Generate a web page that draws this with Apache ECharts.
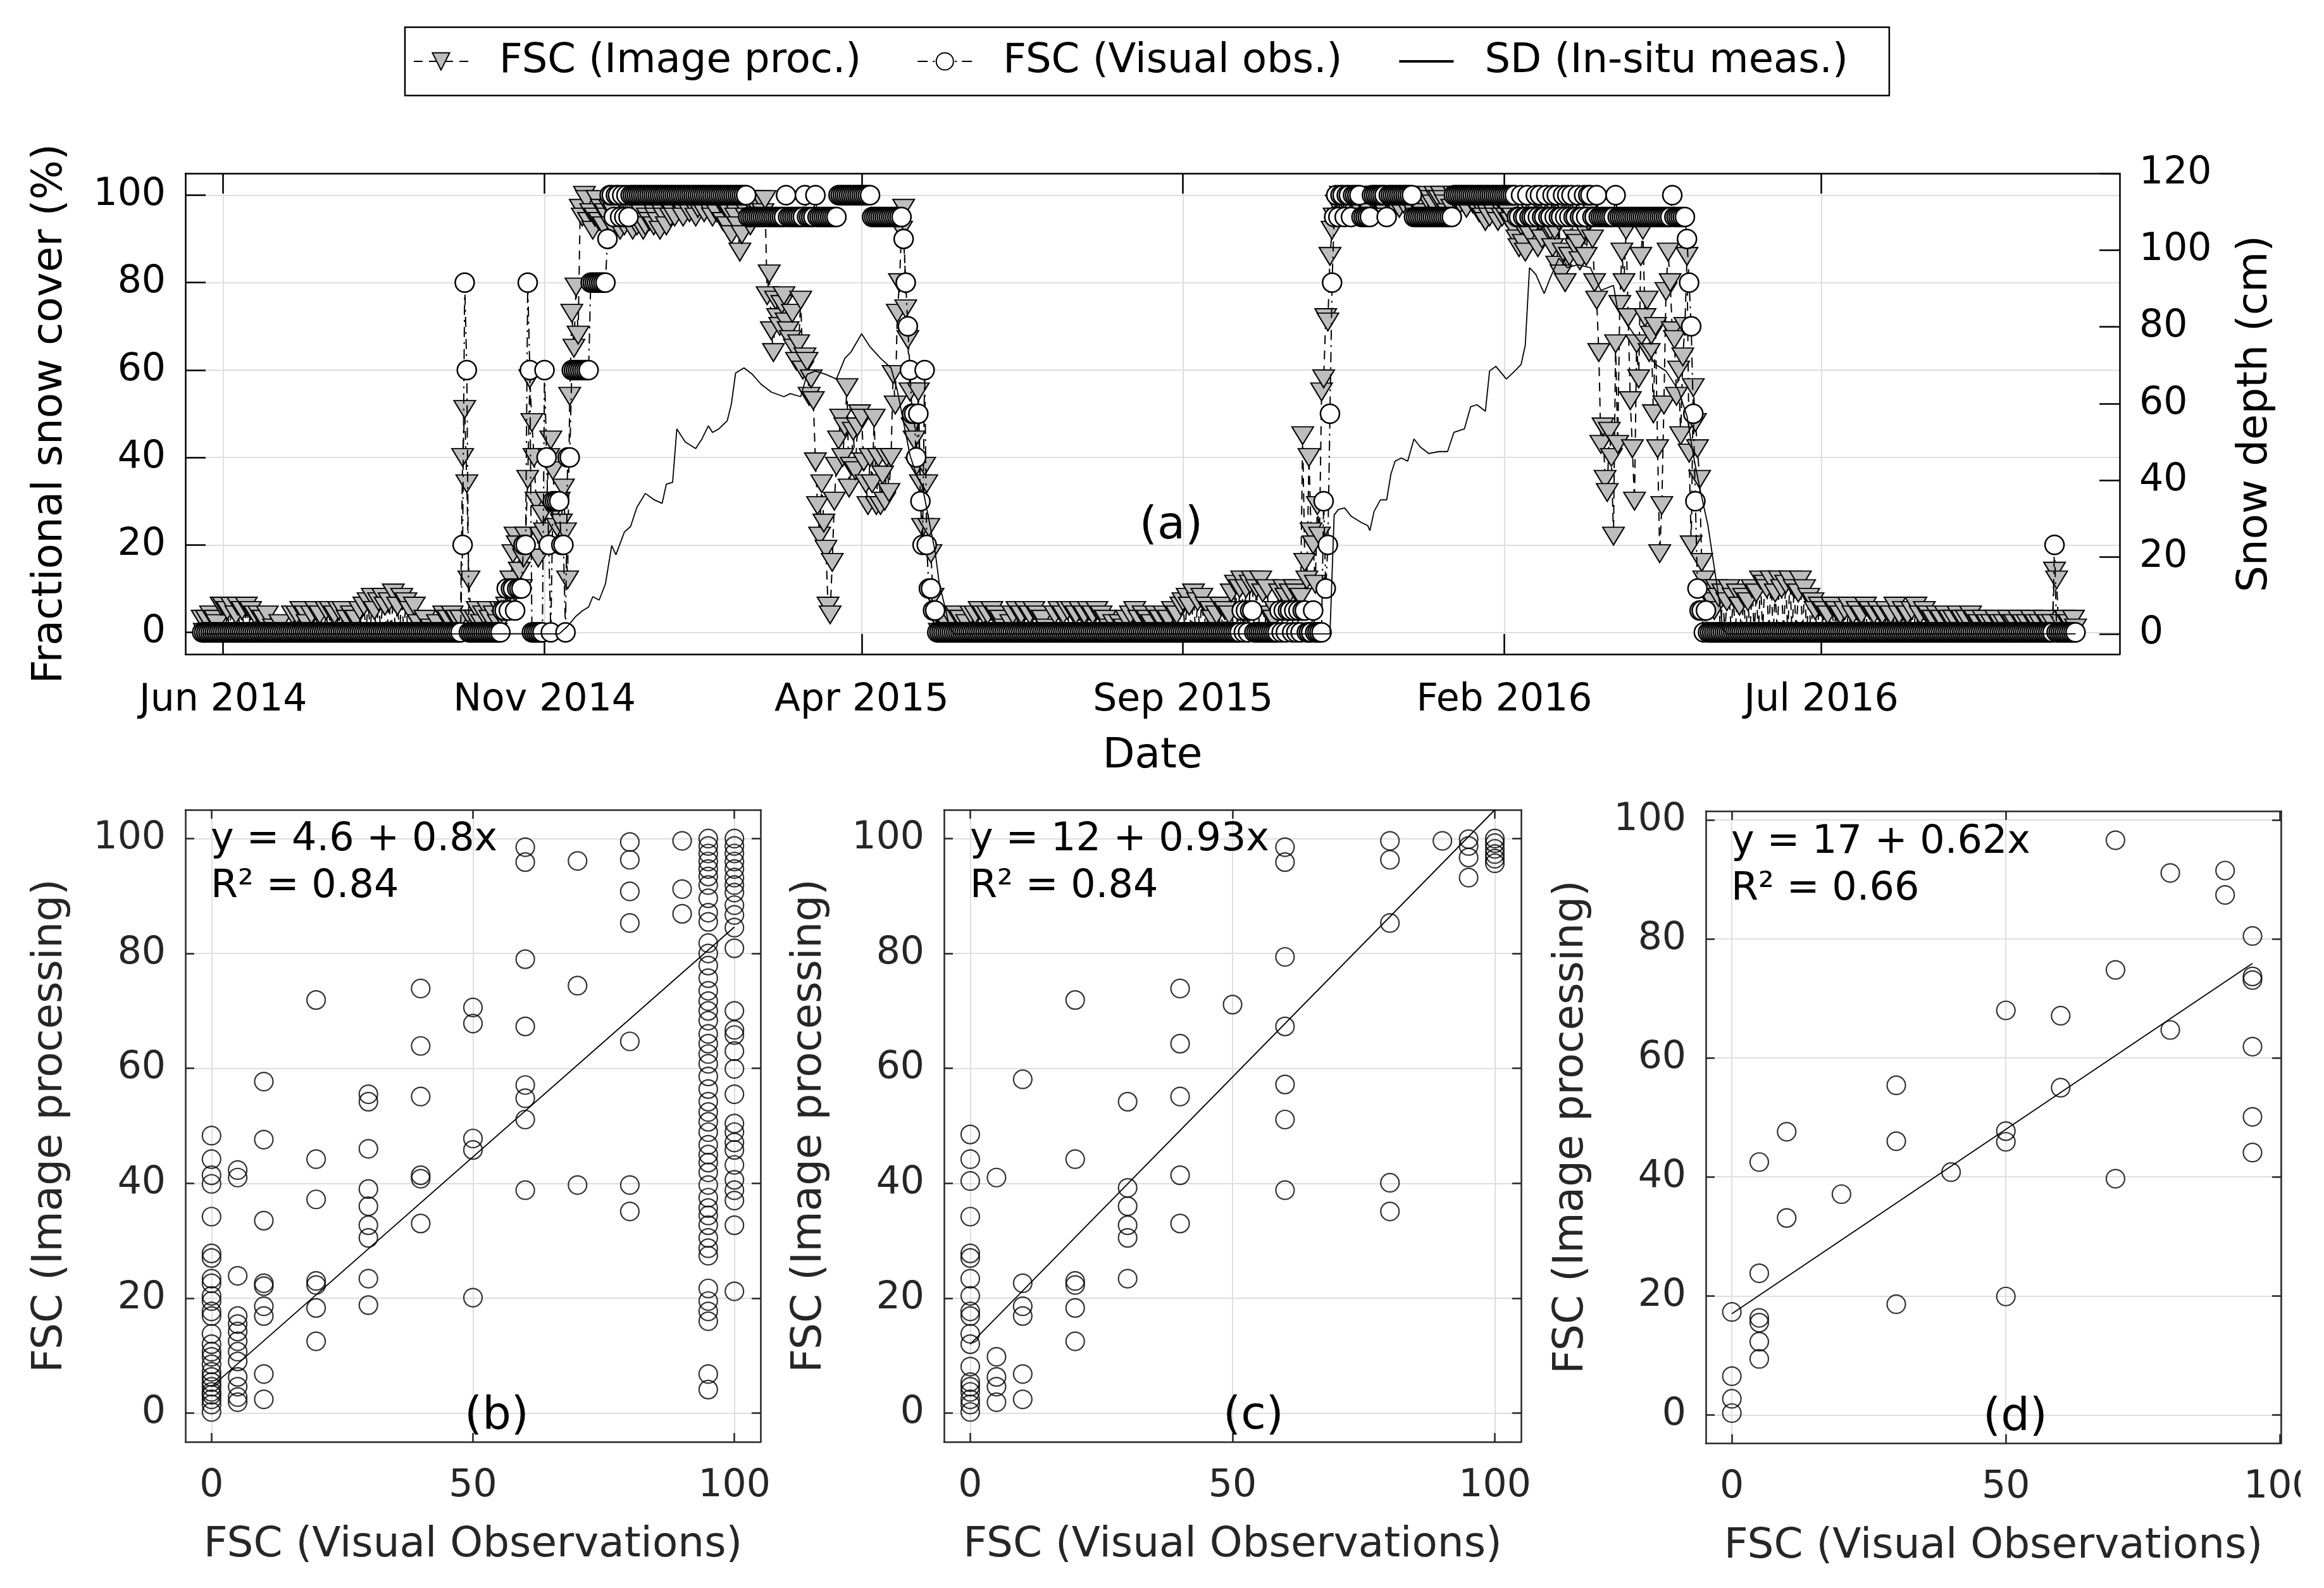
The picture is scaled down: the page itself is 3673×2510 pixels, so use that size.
<!DOCTYPE html>
<html>
<head>
<meta charset="utf-8">
<title>Snow cover</title>
<script src="https://cdn.jsdelivr.net/npm/echarts@6/dist/echarts.min.js"></script>
<style>
  html, body { margin: 0; padding: 0; background: #fff; }
  #chart { width: 3673px; height: 2510px; }
</style>
</head>
<body>
<div id="chart"></div>
<script>
const FONT = 'DejaVu Sans';
const monthNames = ['Jan', 'Feb', 'Mar', 'Apr', 'May', 'Jun', 'Jul', 'Aug', 'Sep', 'Oct', 'Nov', 'Dec'];

// ---- panel (a): daily FSC and snow depth ----
const firstDay = '2014-05-22';
const axisStart = '2014-05-14';
const axisEnd = '2016-11-20';
const dateTicks = ['2014-06-01', '2014-11-01', '2015-04-01', '2015-09-01', '2016-02-01', '2016-07-01'];
const fscTicks = [0, 20, 40, 60, 80, 100];
const sdTicks = [0, 20, 40, 60, 80, 100, 120];

// FSC from image processing (%), one value per day from firstDay
const fscImage = [
  3,0,3,0,4,0,3,2,0,6,                                                        // 2014-05
  6,0,5,0,6,0,4,6,0,5, 0,6,0,5,0,4,0,4,0,3, 0,4,0,0,1,0,0,2,0,0,               // 2014-06
  0,0,0,4,0,4,0,5,0,4, 2,0,4,0,5,0,4,0,0,5, 0,5,0,4,0,5,0,5,0,3, 0,            // 2014-07
  4,0,3,0,5,0,6,0,7,0, 8,5,0,7,0,8,6,0,7,0, 9,0,6,0,8,0,7,0,5,0, 6,            // 2014-08
  0,2,0,0,3,0,0,1,0,0, 2,0,0,4,0,3,0,4,0,3, 0,3,40,51,34,12,3,0,3,5,          // 2014-09
  0,2,4,0,5,3,0,4,0,2, 5,3,5,6,9,12,18,22,20,14, 10,17,22,35,58,48,40,30,17,22, 27,   // 2014-10
  23,30,40,44,37,28,24,30,25,33, 23,12,54,73,65,79,68,97,95,100, 99,94,96,92,95,99,94,97,93,96,   // 2014-11
  95,97,93,96,94,100,92,95,93,97, 96,94,92,95,93,94,96,92,93,95, 94,97,93,95,94,92,96,95,93,97, 95,   // 2014-12
  96,95,98,100,97,95,99,100,96,98, 100,95,97,99,100,96,98,97,100,95, 99,96,100,98,94,97,93,96,91,97, 95,   // 2015-01
  93,87,91,97,95,99,93,95,99,97, 95,99,96,99,77,82,69,64,76,72, 70,75,77,71,69,67,73,65,   // 2015-02
  62,66,76,60,63,62,54,58,53,39, 29,22,34,25,19,6,4,16,30,38, 44,49,40,47,56,33,38,46,37,47, 50,   // 2015-03
  49,39,34,29,40,34,49,29,40,29, 36,30,40,32,40,59,52,73,80,92, 97,74,67,55,47,44,38,55,34,24,   // 2015-04
  38,34,24,18,8,4,3,0,3,0, 2,0,0,3,0,4,0,3,0,0, 2,0,4,0,4,0,5,0,4,0, 4,      // 2015-05
  0,5,0,4,0,3,0,1,0,0, 2,4,0,5,0,4,0,5,0,4, 0,5,0,4,0,3,0,1,0,0,             // 2015-06
  0,4,0,5,0,4,0,5,0,5, 0,4,0,5,0,4,0,5,0,4, 0,5,0,4,0,3,0,1,0,2, 0,          // 2015-07
  0,2,0,1,3,0,4,0,5,0, 3,0,4,0,3,0,2,0,4,0, 3,0,4,0,3,0,5,0,4,0, 6,          // 2015-08
  7,0,8,6,0,9,0,7,0,8, 0,6,0,5,3,0,4,0,6,0, 5,0,4,9,0,11,0,10,12,0,          // 2015-09
  10,0,11,12,0,10,0,12,9,0, 10,4,0,3,5,0,9,0,10,8, 0,9,0,10,9,0,8,45,16,12, 40,   // 2015-10
  23,20,11,29,22,55,58,72,71,86, 92,95,98,95,100,97,95,99,100,96, 99,100,98,100,96,95,97,95,96,99,   // 2015-11
  99,100,98,100,97,100,95,99,100,98, 100,99,97,100,98,100,99,100,98,96, 95,97,95,96,95,99,100,99,98,100, 99,   // 2015-12
  99,100,99,98,96,95,97,100,99,100, 98,100,99,97,100,100,98,99,100,96, 97,95,94,96,95,97,96,95,94,97, 95,   // 2016-01
  97,95,96,94,95,92,90,88,93,89, 87,95,91,96,93,95,88,94,90,96, 95,92,92,88,92,84,94,82,87,   // 2016-02
  80,96,86,95,90,88,89,85,95,92, 86,94,97,90,80,76,64,43,47,35, 32,46,40,22,66,43,75,87,80,92, 72,   // 2016-03
  53,42,30,66,58,86,92,72,76,64, 68,50,70,42,18,29,52,78,87,80, 69,67,54,60,45,63,70,86,41,20,   // 2016-04
  56,48,42,35,16,12,10,8,9,7, 5,10,8,0,9,0,7,10,0,8, 0,9,6,0,8,0,7,0,10,0, 9,   // 2016-05
  0,12,0,11,10,0,12,0,9,0, 12,10,0,11,0,12,0,10,0,9, 12,0,10,0,8,0,7,5,0,6,  // 2016-06
  0,5,0,4,0,6,0,5,0,4, 0,5,0,6,0,4,0,5,0,4, 0,6,0,5,0,4,0,5,0,4, 0,          // 2016-07
  5,0,4,0,6,0,4,0,5,0, 4,0,5,0,6,0,4,0,5,0, 4,0,3,0,4,0,3,0,4,0, 3,          // 2016-08
  0,3,0,4,0,3,0,3,0,4, 0,3,0,2,0,3,0,2,0,2, 0,3,0,2,0,2,0,3,0,2,             // 2016-09
  2,0,3,0,2,0,2,0,3,0, 2,0,2,0,3,0,2,0,2,14, 12,0,2,0,3,0,2,0,3,1            // 2016-10
];

// FSC from visual observations (%), one value per day from firstDay
const fscVisual = [
  0,0,0,0,0,0,0,0,0,0,                                                        // 2014-05
  0,0,0,0,0,0,0,0,0,0, 0,0,0,0,0,0,0,0,0,0, 0,0,0,0,0,0,0,0,0,0,               // 2014-06
  0,0,0,0,0,0,0,0,0,0, 0,0,0,0,0,0,0,0,0,0, 0,0,0,0,0,0,0,0,0,0, 0,            // 2014-07
  0,0,0,0,0,0,0,0,0,0, 0,0,0,0,0,0,0,0,0,0, 0,0,0,0,0,0,0,0,0,0, 0,            // 2014-08
  0,0,0,0,0,0,0,0,0,0, 0,0,0,0,0,0,0,0,0,0, 0,0,20,80,60,0,0,0,0,0,           // 2014-09
  0,0,0,0,0,0,0,0,0,0, 0,5,5,10,5,10,10,5,10,10, 10,20,20,80,60,0,0,0,0,0, 0,   // 2014-10
  60,40,20,0,30,30,30,30,20,20, 0,40,40,60,60,60,60,60,60,60, 60,60,80,80,80,80,80,80,80,80,   // 2014-11
  90,100,100,95,100,100,95,100,95,100, 95,100,100,100,100,100,100,100,100,100, 100,100,100,100,100,100,100,100,100,100, 100,   // 2014-12
  100,100,100,100,100,100,100,100,100,100, 100,100,100,100,100,100,100,100,100,100, 100,100,100,100,100,100,100,100,100,100, 100,   // 2015-01
  100,100,100,100,100,95,95,95,95,95, 95,95,95,95,95,95,95,95,95,95, 95,95,95,100,95,95,95,95,   // 2015-02
  95,95,95,95,100,95,95,95,95,100, 95,95,95,95,95,95,95,95,95,95, 100,100,100,100,100,100,100,100,100,100, 100,   // 2015-03
  100,100,100,100,100,95,95,95,95,95, 95,95,95,95,95,95,95,95,95,95, 90,80,70,60,50,50,40,50,30,20,   // 2015-04
  60,20,10,10,5,5,0,0,0,0, 0,0,0,0,0,0,0,0,0,0, 0,0,0,0,0,0,0,0,0,0, 0,       // 2015-05
  0,0,0,0,0,0,0,0,0,0, 0,0,0,0,0,0,0,0,0,0, 0,0,0,0,0,0,0,0,0,0,               // 2015-06
  0,0,0,0,0,0,0,0,0,0, 0,0,0,0,0,0,0,0,0,0, 0,0,0,0,0,0,0,0,0,0, 0,            // 2015-07
  0,0,0,0,0,0,0,0,0,0, 0,0,0,0,0,0,0,0,0,0, 0,0,0,0,0,0,0,0,0,0, 0,            // 2015-08
  0,0,0,0,0,0,0,0,0,0, 0,0,0,0,0,0,0,0,0,0, 0,0,0,0,0,0,0,0,5,0,               // 2015-09
  5,0,5,5,0,0,0,0,0,0, 0,0,0,0,0,0,5,0,5,0, 5,5,0,5,0,5,0,5,5,0, 0,            // 2015-10
  0,5,0,0,0,0,30,10,20,50, 80,95,100,95,100,100,95,100,100,95, 100,100,100,100,95,95,95,95,95,100,   // 2015-11
  100,100,100,100,100,100,95,100,100,100, 100,100,100,100,100,100,100,100,100,95, 95,95,95,95,95,95,95,95,95,95, 95,   // 2015-12
  95,95,95,95,95,95,95,100,100,100, 100,100,100,100,100,100,100,100,100,100, 100,100,100,100,100,100,100,100,100,100, 100,   // 2016-01
  100,100,100,100,100,100,95,95,100,95, 95,100,95,95,95,100,95,100,95,95, 100,95,95,100,95,100,95,95,100,   // 2016-02
  95,100,95,100,95,95,100,95,95,100, 95,100,100,95,95,100,95,95,95,95, 95,95,95,95,100,95,95,95,95,95, 95,   // 2016-03
  95,95,95,95,95,95,95,95,95,95, 95,95,95,95,95,95,95,95,95,95, 100,95,95,95,95,95,95,90,80,70,   // 2016-04
  50,30,10,5,5,0,5,0,0,0, 0,0,0,0,0,0,0,0,0,0, 0,0,0,0,0,0,0,0,0,0, 0,       // 2016-05
  0,0,0,0,0,0,0,0,0,0, 0,0,0,0,0,0,0,0,0,0, 0,0,0,0,0,0,0,0,0,0,               // 2016-06
  0,0,0,0,0,0,0,0,0,0, 0,0,0,0,0,0,0,0,0,0, 0,0,0,0,0,0,0,0,0,0, 0,            // 2016-07
  0,0,0,0,0,0,0,0,0,0, 0,0,0,0,0,0,0,0,0,0, 0,0,0,0,0,0,0,0,0,0, 0,            // 2016-08
  0,0,0,0,0,0,0,0,0,0, 0,0,0,0,0,0,0,0,0,0, 0,0,0,0,0,0,0,0,0,0,               // 2016-09
  0,0,0,0,0,0,0,0,0,0, 0,0,0,0,0,0,0,0,0,20, 0,0,0,0,0,0,0,0,0,0              // 2016-10
];

// in-situ snow depth (cm)
const sdDates = [
  '2014-05-22', '2014-11-08', '2014-11-12', '2014-11-16', '2014-11-19', '2014-11-22', '2014-11-24', '2014-11-27',
  '2014-11-30', '2014-12-03', '2014-12-05', '2014-12-09', '2014-12-12', '2014-12-15', '2014-12-19', '2014-12-23',
  '2014-12-27', '2014-12-29', '2015-01-01', '2015-01-03', '2015-01-07', '2015-01-12', '2015-01-15', '2015-01-18',
  '2015-01-20', '2015-01-23', '2015-01-27', '2015-01-29', '2015-01-31', '2015-02-04', '2015-02-08', '2015-02-12',
  '2015-02-17', '2015-02-23', '2015-02-26', '2015-03-03', '2015-03-06', '2015-03-10', '2015-03-15', '2015-03-20',
  '2015-03-24', '2015-03-27', '2015-04-01', '2015-04-05', '2015-04-10', '2015-04-15', '2015-04-18', '2015-04-21',
  '2015-04-24', '2015-04-27', '2015-04-30', '2015-05-03', '2015-05-06', '2015-05-08', '2015-05-11', '2015-05-13',
  '2015-05-15',
  '2015-11-10', '2015-11-12', '2015-11-14', '2015-11-17', '2015-11-20', '2015-11-25', '2015-11-28', '2015-11-29',
  '2015-12-01', '2015-12-04', '2015-12-07', '2015-12-09', '2015-12-11', '2015-12-14', '2015-12-17', '2015-12-20',
  '2015-12-23', '2015-12-27', '2016-01-01', '2016-01-05', '2016-01-08', '2016-01-13', '2016-01-16', '2016-01-19',
  '2016-01-23', '2016-01-25', '2016-01-28', '2016-02-02', '2016-02-06', '2016-02-09', '2016-02-11', '2016-02-13',
  '2016-02-16', '2016-02-20', '2016-02-23', '2016-02-27', '2016-03-02', '2016-03-07', '2016-03-13', '2016-03-18',
  '2016-03-24', '2016-03-26', '2016-03-29', '2016-04-02', '2016-04-08', '2016-04-13', '2016-04-18', '2016-04-24',
  '2016-04-28', '2016-05-01', '2016-05-04', '2016-05-08', '2016-05-11', '2016-05-14', '2016-05-15', '2016-05-17',
  '2016-10-30'
];
const sdDepth = [
  0, 0, 2, 4.6, 6, 7, 9.7, 8.8,
  13, 23, 20.6, 26.5, 28, 33, 36.6, 35,
  34, 39, 39.5, 53.4, 50, 48.3, 50.8, 54.2,
  52.5, 53.4, 55.5, 60, 68, 69.3, 67.6, 65.1,
  63, 61.8, 62.6, 61.8, 67.6, 68.5, 67.6, 66.4,
  71.8, 73.5, 78.2, 74.8, 71.8, 69.3, 63.4, 55,
  46.6, 41.6, 38.2, 29.8, 21.4, 13, 6.3, 1.3,
  0,
  0, 31, 32.4, 32.8, 30.7, 29, 28.2, 26.9,
  31.9, 34.9, 34.9, 41.6, 45, 45.8, 45, 50.8,
  48.7, 47, 47.5, 47.5, 52.5, 53.4, 59.2, 59.7,
  58, 68.5, 69.7, 66.4, 68.5, 70.2, 75.2, 95.4,
  93.7, 88.7, 92.9, 97.9, 95.4, 96.2, 95.4, 89.5,
  90.8, 84.5, 82, 78.6, 74.4, 70.2, 68.5, 63.4,
  56.7, 46.6, 38.2, 28.2, 17.2, 6.3, 1.3, 0,
  0
];

// ---- panels (b)-(d): [visual FSC, image FSC] ----
const scatterB = [
  [0,48.3],[0,44.2],[0,41.4],[0,39.9],[0,34.2],[0,27.8],[0,27],[0,23.4],[0,22.6],[0,20.4],[0,19.5],[0,17.7],[0,16.9],
  [0,13.8],[0,12],[0,10.7],[0,9.8],[0,8.5],[0,7.2],[0,6.3],[0,5.4],[0,4.6],[0,3.7],[0,3.2],[0,2.4],[0,1.5],[0,0.2],
  [5,42.3],[5,41],[5,23.9],[5,16.9],[5,15.5],[5,14.2],[5,12.5],[5,10.7],[5,9],[5,6.3],[5,4.6],[5,2.8],[5,1.9],
  [10,57.7],[10,47.6],[10,33.5],[10,22.6],[10,22.1],[10,18.6],[10,16.9],[10,6.8],[10,2.4],
  [20,71.9],[20,44.2],[20,37.2],[20,23],[20,22.3],[20,18.3],[20,12.5],
  [30,55.5],[30,54.2],[30,46],[30,39],[30,36],[30,32.7],[30,30.5],[30,23.4],[30,18.8],
  [40,73.9],[40,63.9],[40,55.1],[40,41.4],[40,40.8],[40,33],
  [50,70.6],[50,67.8],[50,47.8],[50,45.8],[50,20.1],
  [60,98.5],[60,95.9],[60,79],[60,67.3],[60,57.1],[60,54.8],[60,51.1],[60,38.8],
  [70,96.1],[70,74.4],[70,39.7],
  [80,99.4],[80,96.3],[80,90.8],[80,85.3],[80,64.7],[80,39.7],[80,35.1],
  [90,99.6],[90,91.2],[90,86.9],
  [95,100],[95,98.7],[95,97.4],[95,96],[95,94.7],[95,93.4],[95,91.9],[95,89.6],[95,87.1],[95,85.5],[95,81.8],[95,80],
  [95,77.9],[95,75.7],[95,73.5],[95,71.7],[95,70],[95,68.3],[95,66],[95,64.3],[95,62.5],[95,60.8],[95,58.6],[95,56.4],
  [95,54.2],[95,52.4],[95,50.7],[95,48.9],[95,46.7],[95,45],[95,43.6],[95,41.9],[95,39.7],[95,37.5],[95,35.7],[95,34.4],
  [95,32.7],[95,30.5],[95,28.7],[95,27.4],[95,21.7],[95,19.5],[95,17.7],[95,16],[95,6.8],[95,4.1],
  [100,100],[100,98.7],[100,97.4],[100,96],[100,94.7],[100,93.2],[100,91.9],[100,90.6],[100,88.4],[100,86.7],
  [100,84.5],[100,80.9],[100,70],[100,66.7],[100,65.8],[100,63],[100,59.9],[100,55.5],[100,50.4],[100,48.9],
  [100,47.1],[100,45.8],[100,43.2],[100,40.6],[100,38.8],[100,37],[100,32.7],[100,21.2]
];
const scatterC = [
  [0,48.5],[0,44.2],[0,40.4],[0,34.2],[0,27.8],[0,27],[0,23.4],[0,20.4],[0,17.7],[0,16.9],[0,13.8],[0,12],
  [0,8.1],[0,5.4],[0,4.6],[0,3.7],[0,2.4],[0,1.5],[0,0.2],
  [5,41],[5,9.8],[5,6.3],[5,4.6],[5,1.9],
  [10,58.1],[10,22.6],[10,18.6],[10,16.9],[10,6.8],[10,2.4],
  [20,71.9],[20,44.2],[20,23],[20,22.3],[20,18.3],[20,12.5],
  [30,54.2],[30,39.2],[30,36],[30,32.7],[30,30.5],[30,23.4],
  [40,73.9],[40,64.3],[40,55.1],[40,41.4],[40,33],
  [50,71.1],
  [60,98.5],[60,95.9],[60,79.4],[60,67.3],[60,57.2],[60,51.1],[60,38.8],
  [80,99.6],[80,96.3],[80,85.3],[80,40.1],[80,35.1],
  [90,99.6],
  [95,99.9],[95,98.7],[95,96.7],[95,93.2],
  [100,100],[100,99.2],[100,98.2],[100,97.3],[100,96.5],[100,95.7]
];
const scatterD = [
  [0,17.3],[0,6.5],[0,2.7],[0,0.3],
  [5,42.5],[5,23.8],[5,16.3],[5,15.5],[5,12.3],[5,9.4],
  [10,47.6],[10,33.1],
  [20,37.1],
  [30,55.4],[30,46],[30,18.6],
  [40,40.8],
  [50,68],[50,47.7],[50,45.9],[50,19.9],
  [60,67.1],[60,55],
  [70,96.6],[70,74.8],[70,39.7],
  [80,91.1],[80,64.7],
  [90,91.5],[90,87.4],
  [95,80.5],[95,73.7],[95,73.1],[95,61.9],[95,50.1],[95,44.1]
];
const fitIntercept = [4.6, 12, 17];
const fitSlope = [0.8, 0.93, 0.62];
const fitXRange = [[0, 100], [0, 100], [0, 95]];
const fitR2 = ['0.84', '0.84', '0.66'];
const panelLabels = ['(b)', '(c)', '(d)'];
const scatterTicksX = [0, 50, 100];
const scatterTicksY = [0, 20, 40, 60, 80, 100];

const seriesNames = ['FSC (Image proc.)', 'FSC (Visual obs.)', 'SD (In-situ meas.)'];

// ---- build ----
function toTime(s) {
  const p = s.split('-');
  return Date.UTC(+p[0], +p[1] - 1, +p[2]);
}
const DAY = 86400000;
const t0 = toTime(firstDay);
const ipData = fscImage.map((v, i) => [t0 + i * DAY, v]);
const voData = fscVisual.map((v, i) => [t0 + i * DAY, v]);
const sdData = sdDates.map((d, i) => [toTime(d), sdDepth[i]]);
const dateTickTimes = dateTicks.map(toTime);

function fmtDate(v) {
  const d = new Date(v);
  return monthNames[d.getUTCMonth()] + ' ' + d.getUTCFullYear();
}

function makeAxis(o) {
  return {
    type: 'value',
    gridIndex: o.grid,
    position: o.pos,
    min: o.min,
    max: o.max,
    name: o.name || '',
    nameLocation: 'middle',
    nameGap: o.nameGap || 0,
    nameRotate: o.nameRotate,
    nameTextStyle: { fontSize: 66, fontFamily: FONT, color: o.color },
    axisLine: { show: true, onZero: false, lineStyle: { color: o.color, width: 2.5 } },
    axisTick: { show: true, inside: true, length: o.tickLen, customValues: o.ticks,
                lineStyle: { color: o.color, width: 2.5 } },
    axisLabel: { show: !!o.labels, customValues: o.ticks, margin: o.margin || 30,
                 fontSize: 60, fontFamily: FONT, color: o.color, formatter: o.formatter },
    splitLine: { show: !!o.split, lineStyle: { color: '#dedede', width: 2 } }
  };
}

const grids = [
  { left: 293, top: 274, width: 3057, height: 760, outerBoundsMode: 'none' },
  { left: 293, top: 1280, width: 909, height: 999, outerBoundsMode: 'none' },
  { left: 1492, top: 1280, width: 912, height: 999, outerBoundsMode: 'none' },
  { left: 2696, top: 1282, width: 909, height: 999, outerBoundsMode: 'none' }
];
const scatterRanges = [
  { x: [-5, 105], y: [-5, 105] },
  { x: [-5, 105], y: [-5, 105] },
  { x: [-4.75, 100.2], y: [-4.75, 101.5] }
];

const xAxes = [
  makeAxis({ grid: 0, pos: 'bottom', min: toTime(axisStart), max: toTime(axisEnd),
             name: 'Date', nameGap: 129, color: '#000', tickLen: 32, ticks: dateTickTimes,
             labels: true, margin: 43, split: true, formatter: fmtDate }),
  makeAxis({ grid: 0, pos: 'top', min: toTime(axisStart), max: toTime(axisEnd),
             color: '#000', tickLen: 32, ticks: dateTickTimes })
];
const yAxes = [
  makeAxis({ grid: 0, pos: 'left', min: -5, max: 105, name: 'Fractional snow cover (%)', nameGap: 180,
             color: '#000', tickLen: 32, ticks: fscTicks, labels: true, margin: 31, split: true }),
  makeAxis({ grid: 0, pos: 'right', min: -5.3, max: 120, name: 'Snow depth (cm)', nameGap: 182, nameRotate: 90,
             color: '#000', tickLen: 32, ticks: sdTicks, labels: true, margin: 31 })
];
const series = [
  {
    name: seriesNames[0], type: 'line', xAxisIndex: 0, yAxisIndex: 0, data: ipData, z: 2,
    symbol: 'triangle', symbolRotate: 180, symbolSize: [34, 28], showSymbol: true, showAllSymbol: true,
    itemStyle: { color: '#bdbdbd', borderColor: '#000', borderWidth: 2 },
    lineStyle: { color: '#000', width: 2, type: [14, 10] },
    emphasis: { disabled: true }
  },
  {
    name: seriesNames[1], type: 'line', xAxisIndex: 0, yAxisIndex: 0, data: voData, z: 3,
    symbol: 'circle', symbolSize: 30, showSymbol: true, showAllSymbol: true,
    itemStyle: { color: '#fff', borderColor: '#000', borderWidth: 2.5 },
    lineStyle: { color: '#000', width: 2, type: [16, 8, 3, 8] },
    emphasis: { disabled: true }
  },
  {
    name: seriesNames[2], type: 'line', xAxisIndex: 0, yAxisIndex: 1, data: sdData, z: 4,
    symbol: 'none', itemStyle: { color: '#000' }, lineStyle: { color: '#000', width: 1.8 },
    emphasis: { disabled: true }
  }
];

const graphics = [
  { type: 'text', x: 1851, y: 832, z: 50,
    style: { text: '(a)', fontSize: 72, fontFamily: FONT, fill: '#000', align: 'center', verticalAlign: 'middle' } }
];
const eqLeft = [333, 1533, 2736];
const eqTop = [1328, 1328, 1332];
const labelPos = [[785, 2239], [1981, 2239], [3185, 2241]];
const nameGaps = [180, 179, 179];

[scatterB, scatterC, scatterD].forEach((pts, k) => {
  const g = k + 1;
  const r = scatterRanges[k];
  const col = '#262626';
  xAxes.push(makeAxis({ grid: g, pos: 'bottom', min: r.x[0], max: r.x[1], name: 'FSC (Visual Observations)',
                        nameGap: 131, color: col, tickLen: 14, ticks: scatterTicksX, labels: true, margin: 40, split: true }));
  xAxes.push(makeAxis({ grid: g, pos: 'top', min: r.x[0], max: r.x[1], color: col, tickLen: 14, ticks: scatterTicksX }));
  yAxes.push(makeAxis({ grid: g, pos: 'left', min: r.y[0], max: r.y[1], name: 'FSC (Image processing)',
                        nameGap: nameGaps[k], color: col, tickLen: 14, ticks: scatterTicksY, labels: true, margin: 31, split: true }));
  yAxes.push(makeAxis({ grid: g, pos: 'right', min: r.y[0], max: r.y[1], color: col, tickLen: 14, ticks: scatterTicksY }));
  const ax = 2 + 2 * k;
  series.push({
    type: 'scatter', xAxisIndex: ax, yAxisIndex: ax, data: pts, z: 3,
    symbol: 'circle', symbolSize: 29,
    itemStyle: { color: 'rgba(0,0,0,0)', borderColor: '#000', borderWidth: 2.2 },
    emphasis: { disabled: true }
  });
  const a = fitIntercept[k], b = fitSlope[k], xr = fitXRange[k];
  series.push({
    type: 'line', xAxisIndex: ax, yAxisIndex: ax, z: 4,
    data: [[xr[0], a + b * xr[0]], [xr[1], a + b * xr[1]]],
    symbol: 'none', lineStyle: { color: '#000', width: 1.8 },
    emphasis: { disabled: true }
  });
  graphics.push({ type: 'text', x: eqLeft[k], y: eqTop[k], z: 50,
    style: { text: 'y = ' + a + ' + ' + b + 'x', fontSize: 62, fontFamily: FONT, fill: '#000',
             align: 'left', verticalAlign: 'middle' } });
  graphics.push({ type: 'text', x: eqLeft[k], y: eqTop[k] + 74, z: 50,
    style: { text: 'R\u00b2 = ' + fitR2[k], fontSize: 62, fontFamily: FONT, fill: '#000',
             align: 'left', verticalAlign: 'middle' } });
  graphics.push({ type: 'text', x: labelPos[k][0], y: labelPos[k][1], z: 50,
    style: { text: panelLabels[k], fontSize: 72, fontFamily: FONT, fill: '#000',
             align: 'center', verticalAlign: 'middle' } });
});
// the source figure is cut at its right edge, through the last tick label
graphics.push({ type: 'rect', z: 100, shape: { x: 3636, y: 2295, width: 37, height: 100 },
                style: { fill: '#fff' } });

const chart = echarts.init(document.getElementById('chart'), null, { renderer: 'canvas' });
chart.setOption({
  animation: false,
  backgroundColor: '#fff',
  textStyle: { fontFamily: FONT },
  legend: {
    data: [
      seriesNames[0],
      seriesNames[1],
      { name: seriesNames[2], itemStyle: { opacity: 0 }, lineStyle: { width: 4 } }
    ],
    left: 640, top: 43,
    orient: 'horizontal',
    itemWidth: 86, itemHeight: 34, itemGap: 88,
    padding: [22, 65, 22, 13],
    borderColor: '#000', borderWidth: 2.5, backgroundColor: '#fff',
    selectedMode: false,
    textStyle: { fontSize: 64, fontFamily: FONT, color: '#000', padding: [0, 0, 0, 44] }
  },
  grid: grids,
  xAxis: xAxes,
  yAxis: yAxes,
  series: series,
  graphic: graphics
});
</script>
</body>
</html>
